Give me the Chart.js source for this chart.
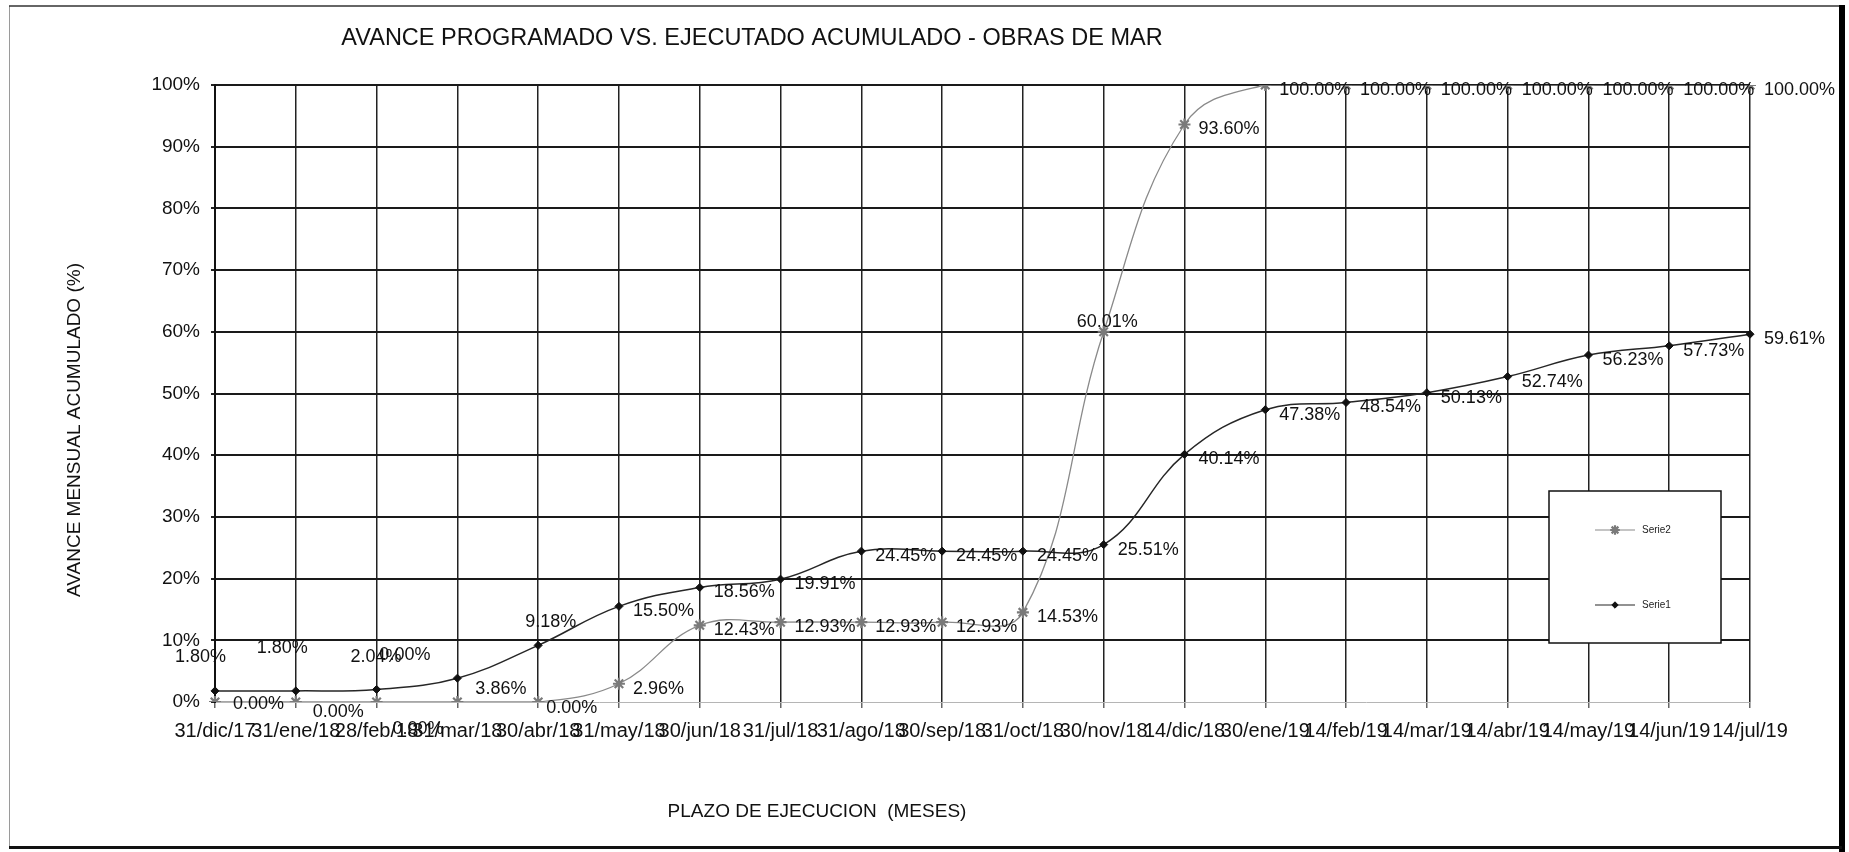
<!DOCTYPE html>
<html>
<head>
<meta charset="utf-8">
<title>Avance programado vs. ejecutado acumulado</title>
<script src="https://cdn.jsdelivr.net/npm/chart.js@4.4.1/dist/chart.umd.min.js"></script>
<style>
  html, body { margin: 0; padding: 0; background: #fff; }
  canvas { display: block; }
</style>
</head>
<body>
<canvas id="grafico" width="1849" height="852"></canvas>
<script>
// Cortes mensuales del plazo de ejecución
const fechas = ['31/dic/17', '31/ene/18', '28/feb/18', '31/mar/18', '30/abr/18', '31/may/18',
  '30/jun/18', '31/jul/18', '31/ago/18', '30/sep/18', '31/oct/18', '30/nov/18', '14/dic/18',
  '30/ene/19', '14/feb/19', '14/mar/19', '14/abr/19', '14/may/19', '14/jun/19', '14/jul/19'];

// Avance acumulado (%) de cada serie
const serie1 = [1.80, 1.80, 2.04, 3.86, 9.18, 15.50, 18.56, 19.91, 24.45, 24.45, 24.45, 25.51,
  40.14, 47.38, 48.54, 50.13, 52.74, 56.23, 57.73, 59.61];
const serie2 = [0.00, 0.00, 0.00, 0.00, 0.00, 2.96, 12.43, 12.93, 12.93, 12.93, 14.53, 60.01,
  93.60, 100.00, 100.00, 100.00, 100.00, 100.00, 100.00, 100.00];

const nombresSeries = ['Serie1', 'Serie2'];
const marcasY = [0, 10, 20, 30, 40, 50, 60, 70, 80, 90, 100];

const TITULO = 'AVANCE PROGRAMADO VS. EJECUTADO ACUMULADO - OBRAS DE MAR';
const TITULO_X = 'PLAZO DE EJECUCION  (MESES)';
const TITULO_Y = 'AVANCE MENSUAL ACUMULADO (%)';

const FUENTE = '"Liberation Sans", Arial, Helvetica, sans-serif';

// Desplazamientos manuales de algunas etiquetas de valor [dx, dy]
const ajustesEtiquetas = {
  0: { 0: [-54, -39], 1: [-53, -48], 2: [-40, -37], 3: [4, 6], 4: [-27, -28] },
  1: { 0: [4, -3], 1: [3, 5], 2: [2, 22], 3: [-92, -52], 4: [-6, 1], 11: [-41, -15] }
};

// Etiquetas de valor junto a cada punto
const etiquetasValor = {
  id: 'etiquetasValor',
  afterDatasetsDraw(chart, args, opts) {
    const ctx = chart.ctx;
    ctx.save();
    ctx.font = opts.font;
    ctx.fillStyle = opts.color;
    ctx.textAlign = 'left';
    ctx.textBaseline = 'middle';
    chart.data.datasets.forEach((ds, di) => {
      const meta = chart.getDatasetMeta(di);
      const aj = opts.ajustes[di] || {};
      meta.data.forEach((pt, i) => {
        const [dx, dy] = aj[i] || [0, 0];
        const txt = ds.data[i].toFixed(2) + '%';
        ctx.fillText(txt, pt.x + opts.separacion + dx, pt.y + opts.bajada + dy);
      });
    });
    ctx.restore();
  }
};

function dibujarMarcador(ctx, estilo, x, y, r, relleno, borde, grosor) {
  ctx.save();
  ctx.fillStyle = relleno;
  ctx.strokeStyle = borde;
  ctx.lineWidth = grosor;
  ctx.beginPath();
  if (estilo === 'rectRot') {
    ctx.moveTo(x, y - r); ctx.lineTo(x + r, y); ctx.lineTo(x, y + r); ctx.lineTo(x - r, y);
    ctx.closePath(); ctx.fill(); ctx.stroke();
  } else {
    const d = r * Math.SQRT1_2;
    ctx.moveTo(x - r, y); ctx.lineTo(x + r, y);
    ctx.moveTo(x, y - r); ctx.lineTo(x, y + r);
    ctx.moveTo(x - d, y - d); ctx.lineTo(x + d, y + d);
    ctx.moveTo(x - d, y + d); ctx.lineTo(x + d, y - d);
    ctx.stroke();
  }
  ctx.restore();
}

// Leyenda en recuadro dentro del área de trazado
const leyendaCaja = {
  id: 'leyendaCaja',
  afterDraw(chart, args, opts) {
    const ctx = chart.ctx;
    const { x, y, w, h } = opts.caja;
    ctx.save();
    ctx.fillStyle = '#fff';
    ctx.fillRect(x, y, w, h);
    ctx.strokeStyle = '#111';
    ctx.lineWidth = 1.5;
    ctx.strokeRect(x, y, w, h);
    ctx.font = opts.font;
    ctx.textAlign = 'left';
    ctx.textBaseline = 'middle';
    opts.orden.forEach((di, k) => {
      const ds = chart.data.datasets[di];
      const fy = y + opts.primera + k * opts.paso;
      const x0 = x + opts.linea[0], x1 = x + opts.linea[1];
      ctx.strokeStyle = ds.borderColor;
      ctx.lineWidth = 1.2;
      ctx.beginPath(); ctx.moveTo(x0, fy); ctx.lineTo(x1, fy); ctx.stroke();
      dibujarMarcador(ctx, ds.pointStyle, (x0 + x1) / 2, fy, ds.pointRadius * 0.8,
        ds.pointBackgroundColor, ds.pointBorderColor, ds.pointBorderWidth);
      ctx.fillStyle = '#222';
      ctx.fillText(ds.label, x1 + 7, fy);
    });
    ctx.restore();
  }
};

// Títulos del gráfico y de los ejes, y marco exterior
const rotulos = {
  id: 'rotulos',
  afterDraw(chart, args, opts) {
    const ctx = chart.ctx;
    ctx.save();
    ctx.fillStyle = '#111';
    ctx.textAlign = 'center';
    ctx.textBaseline = 'middle';
    ctx.font = '23.5px ' + FUENTE;
    ctx.fillText(TITULO, opts.titulo[0], opts.titulo[1]);
    ctx.font = '19px ' + FUENTE;
    ctx.fillText(TITULO_X, opts.ejeX[0], opts.ejeX[1]);
    ctx.save();
    ctx.translate(opts.ejeY[0], opts.ejeY[1]);
    ctx.rotate(-Math.PI / 2);
    ctx.fillText(TITULO_Y, 0, 0);
    ctx.restore();

    // marco
    ctx.strokeStyle = '#9a9a9a'; ctx.lineWidth = 1;
    ctx.beginPath(); ctx.moveTo(9.5, 6); ctx.lineTo(9.5, 848); ctx.stroke();
    ctx.strokeStyle = '#333'; ctx.lineWidth = 1.5;
    ctx.beginPath(); ctx.moveTo(9, 6); ctx.lineTo(1842, 6); ctx.stroke();
    ctx.strokeStyle = '#000'; ctx.lineWidth = 6;
    ctx.beginPath(); ctx.moveTo(1842, 5); ctx.lineTo(1842, 852); ctx.stroke();
    ctx.strokeStyle = '#111'; ctx.lineWidth = 3;
    ctx.beginPath(); ctx.moveTo(9, 847.5); ctx.lineTo(1842, 847.5); ctx.stroke();
    ctx.restore();
  }
};

const fondoBlanco = {
  id: 'fondoBlanco',
  beforeDraw(chart) {
    const ctx = chart.ctx;
    ctx.save();
    ctx.fillStyle = '#fff';
    ctx.fillRect(0, 0, chart.width, chart.height);
    ctx.restore();
  }
};

new Chart(document.getElementById('grafico'), {
  type: 'line',
  data: {
    labels: fechas,
    datasets: [
      {
        label: nombresSeries[0],
        data: serie1,
        borderColor: '#262626',
        borderWidth: 1.5,
        tension: 0.4,
        pointStyle: 'rectRot',
        pointRadius: 4,
        pointBackgroundColor: '#111',
        pointBorderColor: '#111',
        pointBorderWidth: 1,
        fill: false
      },
      {
        label: nombresSeries[1],
        data: serie2,
        borderColor: '#8a8a8a',
        borderWidth: 1.3,
        tension: 0.4,
        pointStyle: 'star',
        pointRadius: 6,
        pointBackgroundColor: '#9a9a9a',
        pointBorderColor: '#7a7a7a',
        pointBorderWidth: 2.2,
        fill: false
      }
    ]
  },
  options: {
    responsive: false,
    animation: false,
    devicePixelRatio: 1,
    layout: { padding: { left: 64, right: 99, top: 85, bottom: 0 } },
    scales: {
      x: {
        offset: false,
        afterFit(scale) { scale.height = 150; },
        grid: {
          color: '#222',
          lineWidth: 1.5,
          drawTicks: true,
          tickLength: 6,
          tickColor: '#666'
        },
        border: { display: false },
        ticks: {
          autoSkip: false,
          maxRotation: 0,
          minRotation: 0,
          padding: 11,
          color: '#111',
          font: { family: FUENTE, size: 20 }
        }
      },
      y: {
        min: 0,
        max: 100,
        afterFit(scale) { scale.width = 151; },
        afterBuildTicks(scale) { scale.ticks = marcasY.map(v => ({ value: v })); },
        grid: {
          color: (c) => (c.tick && c.tick.value === 0 ? '#b5b5b5' : '#1a1a1a'),
          lineWidth: (c) => (c.tick && c.tick.value === 0 ? 1 : 2),
          drawTicks: true,
          tickLength: 4,
          tickColor: '#222'
        },
        border: { display: true, color: '#111', width: 2 },
        ticks: {
          padding: 11,
          color: '#111',
          font: { family: FUENTE, size: 19 },
          callback: (v) => v + '%'
        }
      }
    },
    plugins: {
      legend: { display: false },
      title: { display: false },
      tooltip: { enabled: false },
      etiquetasValor: {
        font: '18px ' + FUENTE,
        color: '#111',
        separacion: 14,
        bajada: 5,
        ajustes: ajustesEtiquetas
      },
      leyendaCaja: {
        caja: { x: 1549, y: 491, w: 172, h: 152 },
        orden: [1, 0],
        primera: 39,
        paso: 75,
        linea: [46, 86],
        font: '10px ' + FUENTE
      },
      rotulos: {
        titulo: [752, 39],
        ejeX: [817, 812],
        ejeY: [75, 430]
      }
    }
  },
  plugins: [fondoBlanco, etiquetasValor, leyendaCaja, rotulos]
});
</script>
</body>
</html>
